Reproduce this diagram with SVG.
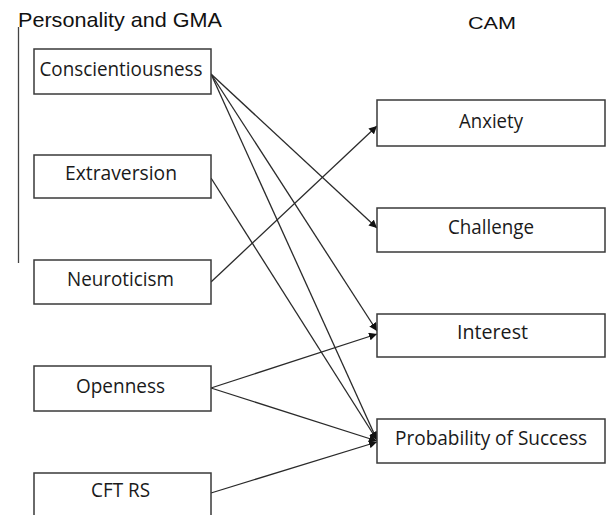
<svg xmlns="http://www.w3.org/2000/svg" width="606" height="515" viewBox="0 0 606 515">
<style>
.box rect{fill:#fff;stroke:#3a3a3a;stroke-width:1.5}
.box text{font-family:"Open Sans","Liberation Sans",sans-serif;font-size:20px;fill:#1a1a1a;text-anchor:middle}
.title{font-family:"Liberation Sans",Arial,sans-serif;fill:#111}
.conn line{stroke:#2a2a2a;stroke-width:1.3;fill:none;marker-end:url(#ah)}
</style>
<defs>
<marker id="ah" viewBox="0 0 10 10" refX="10" refY="5" markerWidth="8" markerHeight="8" markerUnits="userSpaceOnUse" orient="auto">
<path d="M0,0 L10,5 L0,10 z" fill="#111"/>
</marker>
</defs>
<rect width="606" height="515" fill="#fff"/>
<text class="title" x="18" y="27" font-size="21" textLength="204" lengthAdjust="spacingAndGlyphs">Personality and GMA</text>
<text class="title" x="468" y="29" font-size="17" textLength="48" lengthAdjust="spacingAndGlyphs">CAM</text>
<line x1="18.5" y1="27" x2="18.5" y2="263" stroke="#444" stroke-width="1.3"/>
<g class="conn" id="connectors">
<line x1="211" y1="74" x2="377" y2="228"/>
<line x1="211" y1="74" x2="377" y2="331"/>
<line x1="211" y1="74" x2="377" y2="440"/>
<line x1="211" y1="178" x2="377" y2="440"/>
<line x1="211" y1="282" x2="377" y2="126"/>
<line x1="211" y1="388" x2="377" y2="334"/>
<line x1="211" y1="388" x2="377" y2="441"/>
<line x1="211" y1="493" x2="377" y2="442"/>
</g>
<g class="box" id="conscientiousness"><rect x="34" y="49" width="177" height="45"/><text x="121" y="76" textLength="163" lengthAdjust="spacingAndGlyphs">Conscientiousness</text></g>
<g class="box" id="extraversion"><rect x="34" y="155" width="177" height="43"/><text x="121" y="180" textLength="112" lengthAdjust="spacingAndGlyphs">Extraversion</text></g>
<g class="box" id="neuroticism"><rect x="34" y="260" width="177" height="44"/><text x="120.5" y="286" textLength="107" lengthAdjust="spacingAndGlyphs">Neuroticism</text></g>
<g class="box" id="openness"><rect x="34" y="366" width="177" height="45"/><text x="120.5" y="393" textLength="89" lengthAdjust="spacingAndGlyphs">Openness</text></g>
<g class="box" id="cftrs"><rect x="34" y="473" width="177" height="46"/><text x="120.5" y="497" textLength="59" lengthAdjust="spacingAndGlyphs">CFT RS</text></g>
<g class="box" id="anxiety"><rect x="377" y="100" width="228" height="46"/><text x="491" y="128" textLength="64" lengthAdjust="spacingAndGlyphs">Anxiety</text></g>
<g class="box" id="challenge"><rect x="377" y="208" width="228" height="44"/><text x="491" y="234" textLength="86" lengthAdjust="spacingAndGlyphs">Challenge</text></g>
<g class="box" id="interest"><rect x="377" y="314" width="228" height="43"/><text x="492.5" y="339" textLength="71" lengthAdjust="spacingAndGlyphs">Interest</text></g>
<g class="box" id="probability"><rect x="377" y="419" width="228" height="44"/><text x="491" y="445" textLength="192" lengthAdjust="spacingAndGlyphs">Probability of Success</text></g>
</svg>
